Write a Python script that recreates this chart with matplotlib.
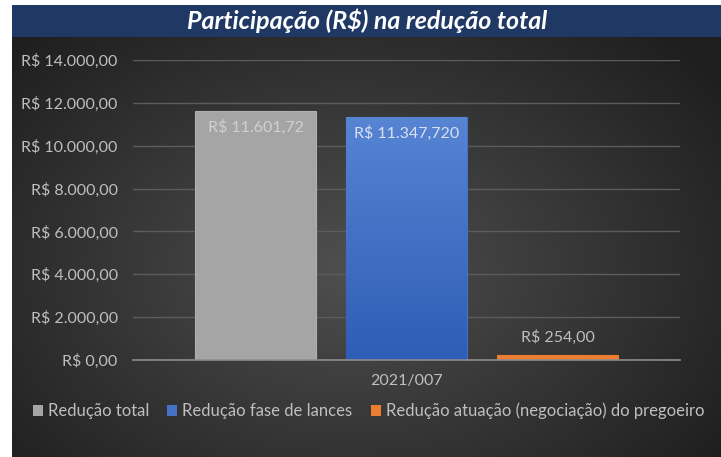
import numpy as np
import matplotlib
matplotlib.use("Agg")
import matplotlib.pyplot as plt
from matplotlib.patches import Rectangle, Patch
from matplotlib.colors import LinearSegmentedColormap

plt.rcParams["text.parse_math"] = False
plt.rcParams["font.family"] = ["Lato", "DejaVu Sans"]

# data
categories = ["2021/007"]
series = ["Redução total", "Redução fase de lances",
          "Redução atuação (negociação) do pregoeiro"]
values = [11601.72, 11347.72, 254.00]
value_labels = ["R$ 11.601,72", "R$ 11.347,720", "R$ 254,00"]
colors = ["#a5a5a5", "#4472c4", "#ed7d31"]
yticks = [0, 2000, 4000, 6000, 8000, 10000, 12000, 14000]
ytick_labels = ["R$ 0,00", "R$ 2.000,00", "R$ 4.000,00", "R$ 6.000,00",
                "R$ 8.000,00", "R$ 10.000,00", "R$ 12.000,00", "R$ 14.000,00"]

W, H = 721, 457
fig = plt.figure(figsize=(W / 100, H / 100), dpi=100)
fig.patch.set_facecolor("white")


def fx(px):
    return px / W


def fy(px):
    return 1 - px / H


# dark radial gradient background
fig.patches.append(Rectangle((fx(12), 0), fx(W - 12), fy(37),
                             transform=fig.transFigure, facecolor="#2a2a2a",
                             edgecolor="none", zorder=-5))
bg = fig.add_axes([fx(12), 0, fx(W - 12), fy(37)], zorder=-1)
bg.set_axis_off()
gx, gy = np.meshgrid(np.linspace(-1, 1, 300), np.linspace(-1, 1, 200))
r = np.sqrt(((gx + 0.05) / 1.1) ** 2 + ((gy - 0.1) / 1.3) ** 2)
shade = 0.31 - 0.16 * np.clip(r, 0, 1.2)
bg.imshow(np.dstack([shade] * 3), aspect="auto", extent=[0, 1, 0, 1])
bg.set_xlim(0, 1)
bg.set_ylim(0, 1)

# title band
fig.patches.append(Rectangle((fx(12), fy(37)), fx(W - 12), 32 / H,
                             transform=fig.transFigure, facecolor="#1f3864",
                             edgecolor="none", zorder=1))
fig.text(fx(367), fy(21), "Participação (R$) na redução total", color="white",
         fontsize=18, fontweight="bold", fontstyle="italic",
         ha="center", va="center", zorder=2)

ax = fig.add_axes([fx(133), fy(360), fx(547), 300 / H])
ax.patch.set_alpha(0)
spacing = 1.0
width = 121 / 151
offsets = [(i - 1) * spacing for i in range(len(series))]
bars = []
for off, v, c, name in zip(offsets, values, colors, series):
    b = ax.bar(off, v, width=width, color=c,
               edgecolor="#b0b0b0" if c == "#a5a5a5" else c,
               linewidth=0.8, zorder=3, label=name)
    bars.append(b[0])

# soft vertical gradient on the blue bar, like the Excel fill
blue_cmap = LinearSegmentedColormap.from_list("blue_fill", ["#2d5db6", "#5784d3"])
bb = bars[1]
grad = np.linspace(0, 1, 100).reshape(-1, 1)
im = ax.imshow(grad, cmap=blue_cmap, origin="lower", aspect="auto",
               extent=[bb.get_x(), bb.get_x() + bb.get_width(), 0, bb.get_height()],
               zorder=3.5)
im.set_clip_path(bb)

half = 273.5 / 151
ax.set_xlim(-half, half)
ax.set_ylim(0, 14000)
ax.set_yticks(yticks)
ax.set_yticklabels(ytick_labels)
ax.set_xticks([0])
ax.set_xticklabels(categories)
ax.tick_params(axis="y", length=0, pad=11, colors="#bfbfbf", labelsize=11.5)
ax.tick_params(axis="x", length=0, pad=10, colors="#bfbfbf", labelsize=11.5)
ax.grid(axis="y", color="#5c5c5c", linewidth=1, zorder=0)
for s in ["top", "right", "left"]:
    ax.spines[s].set_visible(False)
ax.spines["bottom"].set_color("#8c8c8c")
ax.spines["bottom"].set_linewidth(1.2)
ax.spines["bottom"].set_zorder(4)

# data labels
label_colors = ["#d0d0d0", "#d9e1f2", "#bfbfbf"]
for b, v, lab, lc in zip(bars, values, value_labels, label_colors):
    cx = b.get_x() + b.get_width() / 2
    if v > 1000:
        ax.text(cx, v - 400, lab, ha="center", va="top", color=lc,
                fontsize=11.5, zorder=5)
    else:
        ax.text(cx, v + 450, lab, ha="center", va="bottom", color=lc,
                fontsize=11.5, zorder=5)

handles = [Patch(facecolor=c, edgecolor="none") for c in colors]
fig.legend(handles, series, loc="center left", bbox_to_anchor=(fx(26), fy(411)),
           ncol=3, frameon=False, fontsize=12, labelcolor="#bfbfbf",
           handlelength=0.6, handleheight=0.6, handletextpad=0.3,
           columnspacing=1.1, borderaxespad=0)

fig.savefig("out.png", dpi=100, facecolor=fig.get_facecolor())
